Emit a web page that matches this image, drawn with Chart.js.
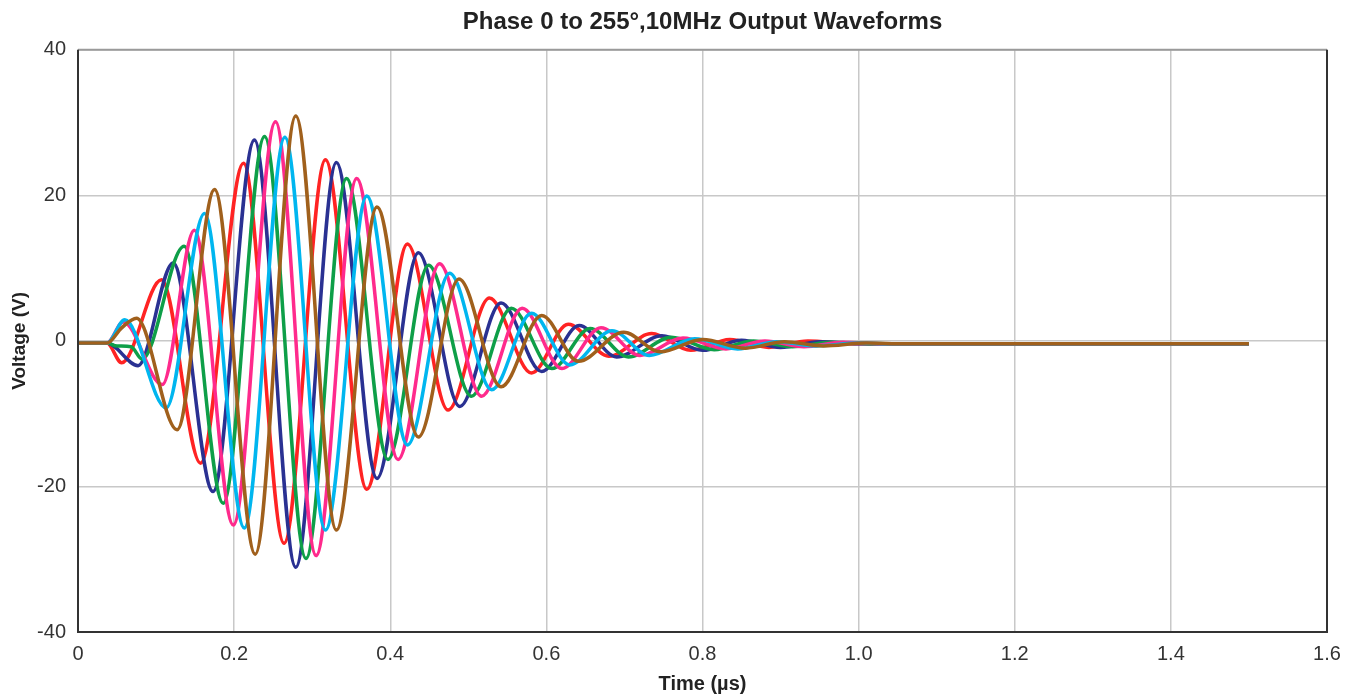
<!DOCTYPE html>
<html>
<head>
<meta charset="utf-8">
<title>Phase 0 to 255°, 10MHz Output Waveforms</title>
<script src="https://cdn.jsdelivr.net/npm/chart.js@4.4.0/dist/chart.umd.min.js"></script>
<style>
  html, body { margin: 0; padding: 0; background: #fff; }
  #wrap { width: 1351px; height: 696px; position: relative; }
</style>
</head>
<body>
<div id="wrap"><canvas id="grafica"></canvas></div>
<script>
/* ===============================
   DATOS
   tiempo en µs, voltaje en V
=============================== */
const xTicks = [0, 0.2, 0.4, 0.6, 0.8, 1.0, 1.2, 1.4, 1.6];
const yTicks = [-40, -20, 0, 20, 40];

// fase 0°
const tRed = [0, 0.037, 0.056, 0.107, 0.157, 0.212, 0.264, 0.317, 0.370, 0.422, 0.474, 0.527, 0.581, 0.628, 0.680, 0.735, 0.785, 0.835, 0.885, 0.935, 0.99, 1.5];
const vRed = [-0.3, -0.3, -3.0, 8.4, -16.8, 24.4, -27.8, 24.9, -20.4, 13.3, -9.5, 5.9, -4.4, 2.3, -2.1, 1.0, -1.3, 0.2, -0.9, 0.0, -0.4, -0.4];

const tBlue = [0, 0.037, 0.077, 0.122, 0.173, 0.226, 0.279, 0.331, 0.383, 0.436, 0.489, 0.542, 0.594, 0.642, 0.690, 0.748, 0.800, 0.850, 0.900, 0.950, 1.0, 1.5];
const vBlue = [-0.3, -0.3, -3.4, 10.7, -20.7, 27.6, -31.1, 24.5, -18.9, 12.1, -9.0, 5.2, -4.2, 2.1, -2.2, 0.7, -1.3, 0.1, -0.9, -0.1, -0.4, -0.4];

const tGreen = [0, 0.037, 0.050, 0.068, 0.082, 0.136, 0.186, 0.239, 0.292, 0.344, 0.397, 0.449, 0.504, 0.555, 0.607, 0.656, 0.705, 0.760, 0.815, 0.865, 0.915, 0.965, 1.02, 1.5];
const vGreen = [-0.3, -0.3, -0.7, -0.8, -2.5, 13.0, -22.3, 28.1, -29.9, 22.3, -16.3, 10.4, -7.6, 4.5, -3.8, 1.7, -2.2, 0.5, -1.2, 0.0, -0.8, -0.2, -0.4, -0.4];

const tPink = [0, 0.037, 0.058, 0.108, 0.149, 0.199, 0.253, 0.305, 0.357, 0.410, 0.463, 0.517, 0.569, 0.620, 0.670, 0.720, 0.775, 0.830, 0.880, 0.930, 0.980, 1.03, 1.5];
const vPink = [-0.3, -0.3, 2.6, -6.0, 15.2, -25.3, 30.1, -29.5, 22.3, -16.3, 10.6, -7.6, 4.5, -3.8, 1.8, -2.0, 0.4, -1.1, 0.0, -0.8, -0.2, -0.4, -0.4];

const tCyan = [0, 0.037, 0.060, 0.113, 0.162, 0.213, 0.265, 0.317, 0.370, 0.422, 0.476, 0.530, 0.581, 0.630, 0.684, 0.732, 0.790, 0.845, 0.895, 0.945, 1.0, 1.05, 1.5];
const vCyan = [-0.3, -0.3, 2.9, -9.2, 17.5, -25.7, 28.0, -26.0, 19.9, -14.3, 9.3, -6.7, 3.8, -3.3, 1.4, -2.0, 0.3, -1.1, -0.1, -0.7, -0.3, -0.4, -0.4];

const tBrown = [0, 0.037, 0.056, 0.075, 0.127, 0.175, 0.227, 0.279, 0.331, 0.383, 0.436, 0.488, 0.542, 0.594, 0.641, 0.699, 0.746, 0.800, 0.855, 0.905, 0.955, 1.01, 1.06, 1.5];
const vBrown = [-0.3, -0.3, 1.8, 3.1, -12.2, 20.8, -29.3, 30.9, -26.0, 18.4, -13.2, 8.5, -6.3, 3.5, -2.8, 1.2, -1.5, 0.2, -1.0, -0.1, -0.7, -0.3, -0.4, -0.4];

/* ===============================
   ARMAR DATASETS
=============================== */
function puntos(ts, vs) {
  return ts.map((t, i) => ({ x: t, y: vs[i] }));
}

const series = [
  { label: "0°",   t: tRed,   v: vRed,   color: "#ff2323", order: 5 },
  { label: "51°",  t: tBlue,  v: vBlue,  color: "#2a3192", order: 4 },
  { label: "102°", t: tGreen, v: vGreen, color: "#0e9f48", order: 3 },
  { label: "153°", t: tPink,  v: vPink,  color: "#ff2a8c", order: 2 },
  { label: "204°", t: tCyan,  v: vCyan,  color: "#00b6ef", order: 1 },
  { label: "255°", t: tBrown, v: vBrown, color: "#a0601c", order: 0 },
];

const datasets = series.map(s => ({
  label: s.label,
  data: puntos(s.t, s.v),
  borderColor: s.color,
  borderWidth: 3.5,
  pointRadius: 0,
  fill: false,
  cubicInterpolationMode: "monotone",
  order: s.order,
}));

/* ===============================
   MARCO DEL ÁREA
=============================== */
const marco = {
  id: "marco",
  afterDraw(chart) {
    const { ctx, chartArea: a } = chart;
    ctx.save();
    ctx.lineWidth = 2;
    ctx.strokeStyle = "#9a9a9a";
    ctx.beginPath();
    ctx.moveTo(a.left, a.top);
    ctx.lineTo(a.right, a.top);
    ctx.stroke();
    ctx.strokeStyle = "#333";
    ctx.beginPath();
    ctx.moveTo(a.right, a.top);
    ctx.lineTo(a.right, a.bottom);
    ctx.lineTo(a.left, a.bottom);
    ctx.lineTo(a.left, a.top);
    ctx.stroke();
    ctx.restore();
  }
};

const fuente = "'Liberation Sans', Arial, sans-serif";

new Chart(document.getElementById("grafica"), {
  type: "line",
  data: { datasets },
  options: {
    responsive: true,
    maintainAspectRatio: false,
    animation: false,
    layout: { padding: { left: 0, right: 24, top: 0, bottom: 0 } },
    plugins: {
      legend: { display: false },
      tooltip: { enabled: false },
      title: {
        display: true,
        text: "Phase 0 to 255°,10MHz Output Waveforms",
        color: "#222",
        fullSize: false,
        font: { family: fuente, size: 24, weight: "bold" },
        padding: { top: 8, bottom: 13 },
      },
    },
    scales: {
      x: {
        type: "linear",
        min: 0,
        max: 1.6,
        afterBuildTicks: sc => { sc.ticks = xTicks.map(v => ({ value: v })); },
        afterFit: sc => { sc.height = 64; },
        ticks: {
          color: "#333",
          padding: 10,
          maxRotation: 0,
          font: { family: fuente, size: 20 },
          callback: v => (v === 0 ? "0" : v.toFixed(1)),
        },
        grid: { color: "#c8c8c8", lineWidth: 1.5, drawTicks: false },
        border: { display: false },
        title: {
          display: true,
          text: "Time (µs)",
          color: "#222",
          font: { family: fuente, size: 20, weight: "bold" },
          padding: { top: 4, bottom: 0 },
        },
      },
      y: {
        min: -40,
        max: 40,
        afterBuildTicks: sc => { sc.ticks = yTicks.map(v => ({ value: v })); },
        afterFit: sc => { sc.width = 78; },
        ticks: {
          color: "#333",
          padding: 12,
          font: { family: fuente, size: 20 },
        },
        grid: { color: "#c8c8c8", lineWidth: 1.5, drawTicks: false },
        border: { display: false },
        title: {
          display: true,
          text: "Voltage (V)",
          color: "#222",
          font: { family: fuente, size: 19, weight: "bold" },
          padding: { top: 8, bottom: 4 },
        },
      },
    },
  },
  plugins: [marco],
});
</script>
</body>
</html>
